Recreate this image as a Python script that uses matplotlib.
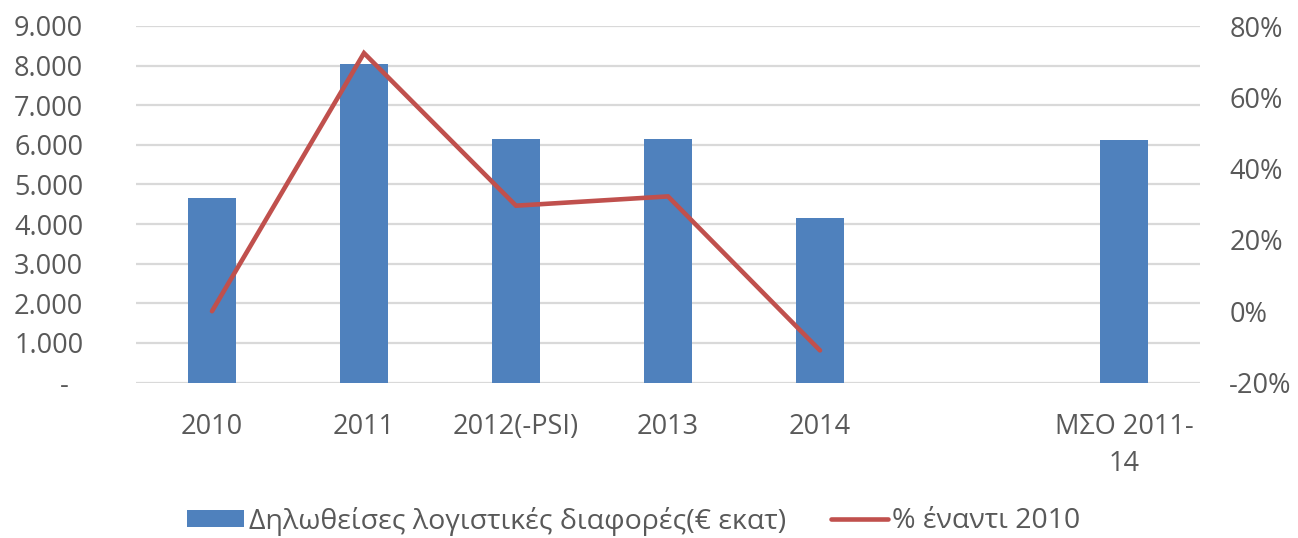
import matplotlib
matplotlib.use("Agg")
import matplotlib.pyplot as plt
import numpy as np

categories = ["2010", "2011", "2012(-PSI)", "2013", "2014", "", "ΜΣΟ 2011-\n14"]
amounts = [4660, 8040, 6150, 6150, 4160, np.nan, 6110]
pct_vs_2010 = [0.0, 72.4, 29.6, 32.2, -11.0]
left_ticks = [0, 1000, 2000, 3000, 4000, 5000, 6000, 7000, 8000, 9000]
left_labels = ["-  ", "1.000", "2.000", "3.000", "4.000", "5.000", "6.000", "7.000", "8.000", "9.000"]
right_ticks = [-20, 0, 20, 40, 60, 80]
right_labels = ["-20%", "0%", "20%", "40%", "60%", "80%"]
bar_label = "Δηλωθείσες λογιστικές διαφορές(€ εκατ)"
line_label = "% έναντι 2010"

plt.rcParams['font.family'] = ['Open Sans', 'DejaVu Sans']
TXT = '#595959'
BAR = '#4F81BD'
LINE = '#C0504D'
GRID = '#D9D9D9'

fig = plt.figure(figsize=(12.98, 5.38), dpi=100)
ax = fig.add_axes([136/1298, 1 - 382.5/538, (1200-136)/1298, (382.5-26)/538])
x = np.arange(len(categories))
bars = ax.bar(x, amounts, width=0.315, color=BAR, zorder=2, label=bar_label)
ax.set_xlim(-0.5, len(categories) - 0.5)
ax.set_ylim(0, 9000)
ax.set_yticks(left_ticks)
ax.set_yticklabels(left_labels)
ax.set_xticks(x)
ax.set_xticklabels(categories, linespacing=1.42)
for s in ax.spines.values():
    s.set_visible(False)
ax.grid(axis='y', color=GRID, linewidth=1.6, zorder=0)
ax.set_axisbelow(True)
ax.tick_params(axis='y', length=0, pad=38, labelsize=19.5, labelcolor=TXT)
ax.tick_params(axis='x', length=0, pad=22, labelsize=19.5, labelcolor=TXT)

ax2 = ax.twinx()
ax2.set_ylim(-20, 80)
line, = ax2.plot(x[:len(pct_vs_2010)], pct_vs_2010, color=LINE, linewidth=3.3,
                 solid_capstyle='round', solid_joinstyle='miter', zorder=3, label=line_label)
ax2.set_yticks(right_ticks)
ax2.set_yticklabels(right_labels)
for s in ax2.spines.values():
    s.set_visible(False)
ax2.tick_params(axis='y', length=0, pad=21, labelsize=19.5, labelcolor=TXT)

leg = fig.legend([bars, line], [bar_label, line_label], loc='center',
                 bbox_to_anchor=(634/1298, 1 - 521/538), ncol=2, frameon=False,
                 fontsize=20.5, handlelength=2.0, handleheight=0.55, handletextpad=0.15,
                 columnspacing=1.6, labelcolor=TXT)

fig.savefig("out.png", dpi=100)
